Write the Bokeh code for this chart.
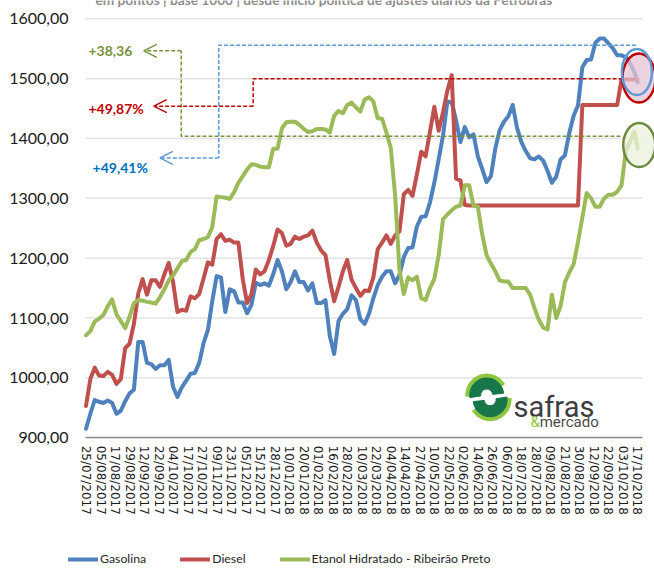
from bokeh.plotting import figure
from bokeh.models import (Range1d, FixedTicker, Legend, LegendItem, Label, Arrow, OpenHead)
from bokeh.embed import file_html
from bokeh.resources import INLINE

# ---------------- data ----------------
date_labels = ["25/07/2017", "05/08/2017", "17/08/2017", "29/08/2017", "12/09/2017",
               "22/09/2017", "04/10/2017", "17/10/2017", "27/10/2017", "09/11/2017",
               "23/11/2017", "05/12/2017", "15/12/2017", "28/12/2017", "10/01/2018",
               "20/01/2018", "01/02/2018", "16/02/2018", "28/02/2018", "10/03/2018",
               "22/03/2018", "04/04/2018", "14/04/2018", "27/04/2018", "10/05/2018",
               "22/05/2018", "02/06/2018", "14/06/2018", "26/06/2018", "06/07/2018",
               "18/07/2018", "28/07/2018", "09/08/2018", "21/08/2018", "30/08/2018",
               "12/09/2018", "22/09/2018", "03/10/2018", "17/10/2018"]
label_step = 10  # observations between two date labels

day_index = list(range(0, 379, 3)) + [380]

gasolina = [915, 940, 963, 960, 958, 962, 958, 940, 945, 961,
            974, 980, 1060, 1060, 1025, 1023, 1015, 1021, 1021, 1030,
            985, 968, 984, 995, 1007, 1008, 1025, 1058, 1080, 1128,
            1170, 1168, 1110, 1148, 1145, 1126, 1126, 1108, 1122,
            1159, 1155, 1158, 1154, 1173, 1197, 1178, 1148, 1160, 1178,
            1160, 1160, 1146, 1158, 1125, 1125, 1130, 1070, 1040, 1095,
            1107, 1115, 1138, 1130, 1098, 1090, 1107, 1133, 1155, 1169,
            1178, 1178, 1158, 1172, 1202, 1217, 1218, 1253, 1269, 1270,
            1293, 1326, 1365, 1405, 1462, 1460, 1430, 1394, 1419, 1402,
            1407, 1370, 1349, 1327, 1337, 1383, 1414, 1428, 1437,
            1456, 1418, 1394, 1379, 1367, 1365, 1370, 1363, 1346, 1326,
            1336, 1365, 1372, 1409, 1438, 1455, 1519, 1531, 1532, 1560,
            1567, 1567, 1559, 1551, 1539, 1539, 1536, 1525, 1510,
            1494.1]

diesel = [953, 998, 1017, 1004, 1003, 1010, 1005, 990, 998, 1050,
          1057, 1090, 1141, 1165, 1139, 1163, 1163, 1152, 1173, 1192,
          1160, 1110, 1114, 1112, 1136, 1133, 1140, 1166, 1193, 1189,
          1232, 1240, 1229, 1231, 1226, 1226, 1165, 1125, 1140,
          1181, 1173, 1178, 1197, 1220, 1248, 1242, 1221, 1224, 1236,
          1232, 1236, 1238, 1246, 1226, 1213, 1205, 1163, 1128, 1152,
          1178, 1197, 1164, 1150, 1137, 1146, 1145, 1168, 1215, 1226,
          1238, 1224, 1238, 1245, 1307, 1314, 1304, 1340, 1378, 1370,
          1411, 1453, 1413, 1444, 1480, 1506, 1333, 1330, 1289, 1288,
          1288, 1288, 1288, 1288, 1288, 1288, 1288, 1288, 1288, 1288,
          1288, 1288, 1288, 1288, 1288, 1288, 1288, 1288, 1288, 1288,
          1288, 1288, 1288, 1288, 1288,
          1456, 1456, 1456, 1456, 1456, 1456, 1456, 1456, 1456,
          1498.7, 1498.7, 1498.7, 1498.7,
          1498.7]

etanol = [1071, 1078, 1094, 1099, 1105, 1120, 1131, 1106, 1095, 1083,
          1102, 1125, 1130, 1129, 1127, 1126, 1124, 1135, 1148, 1163,
          1171, 1183, 1195, 1197, 1210, 1215, 1230, 1232, 1235, 1252,
          1303, 1302, 1301, 1299, 1310, 1326, 1337, 1348, 1357,
          1356, 1353, 1352, 1352, 1383, 1383, 1417, 1427, 1428, 1428,
          1423, 1416, 1411, 1412, 1416, 1416, 1415, 1410, 1438, 1446,
          1442, 1456, 1460, 1452, 1445, 1465, 1469, 1462, 1434, 1433,
          1410, 1384, 1305, 1180, 1140, 1168, 1163, 1169, 1133, 1130,
          1150, 1165, 1205, 1265, 1273, 1280, 1286, 1288, 1322, 1322,
          1288, 1286, 1240, 1205, 1191, 1178, 1163, 1161, 1161,
          1150, 1150, 1150, 1150, 1139, 1117, 1097, 1084, 1081, 1139,
          1100, 1120, 1160, 1176, 1190, 1227, 1268, 1309, 1300, 1286,
          1286, 1300, 1306, 1306, 1311, 1322, 1380, 1395, 1411,
          1383.6]

series_names = ["Gasolina", "Diesel", "Etanol Hidratado - Ribeirão Preto"]
series_colors = ["#4F81BD", "#C0504D", "#9BBB59"]

y_ticks = [900, 1000, 1100, 1200, 1300, 1400, 1500, 1600]
y_tick_labels = ["900,00", "1000,00", "1100,00", "1200,00", "1300,00", "1400,00", "1500,00", "1600,00"]

subtitle = "em pontos | base 1000 | desde início política de ajustes diários da Petrobras"

# annotation guides (day index, index level)
notes = [
    dict(text="+38,36", color="#77933C", tx=1.7, ty=1546.5,
         gx=[368.3, 65.6, 65.6], gy=[1403.8, 1403.8, 1546.5], tip=39.8),
    dict(text="+49,87%", color="#C00000", tx=1.7, ty=1450.7,
         gx=[378.0, 115.2, 115.2], gy=[1500.0, 1500.0, 1454.0], tip=46.7),
    dict(text="+49,41%", color="#0070C0", tx=4.5, ty=1352.0,
         gx=[379.0, 91.5, 91.5], gy=[1556.0, 1556.0, 1367.6], tip=50.9),
]
guide_colors = ["#77933C", "#C00000", "#5B9BD5"]

# plotting-area extent along x (day index) used for grid / axis line
area_x0, area_x1 = -0.34, 383.2

# ---------------- figure ----------------
p = figure(width=654, height=571, x_range=Range1d(-58.91, 391.72), y_range=Range1d(676.4, 1630.6),
           output_backend="svg", toolbar_location=None,
           min_border_left=0, min_border_right=0, min_border_top=0, min_border_bottom=0)
p.outline_line_color = None
p.background_fill_color = "white"
p.border_fill_color = "white"
p.xgrid.grid_line_color = None
p.ygrid.grid_line_color = None

# horizontal gridlines
p.segment(x0=[area_x0] * len(y_ticks), y0=y_ticks, x1=[area_x1] * len(y_ticks), y1=y_ticks,
          line_color="#E3E3E3", line_width=1.5, level="underlay")

p.xaxis.fixed_location = 900
p.xaxis.bounds = (area_x0, area_x1)
p.xaxis.ticker = FixedTicker(ticks=[i * label_step for i in range(len(date_labels))])
p.xaxis.major_label_overrides = {i * label_step: s for i, s in enumerate(date_labels)}
p.xaxis.major_label_orientation = "vertical"
p.xaxis.major_label_text_font = "DejaVu Sans"
p.xaxis.major_label_text_font_size = "12px"
p.xaxis.major_label_text_color = "#1A1A1A"
p.xaxis.major_label_standoff = 8
p.xaxis.major_tick_in = 0
p.xaxis.major_tick_out = 0
p.xaxis.minor_tick_in = 0
p.xaxis.minor_tick_out = 0
p.xaxis.axis_line_color = "#8C8C8C"
p.xaxis.axis_line_width = 1.5

p.yaxis.fixed_location = area_x0
p.yaxis.ticker = FixedTicker(ticks=y_ticks)
p.yaxis.major_label_overrides = {v: s for v, s in zip(y_ticks, y_tick_labels)}
p.yaxis.major_label_text_font = "Lato"
p.yaxis.major_label_text_font_size = "16px"
p.yaxis.major_label_text_color = "#1A1A1A"
p.yaxis.major_label_standoff = 17
p.yaxis.axis_line_color = None
p.yaxis.major_tick_in = 0
p.yaxis.major_tick_out = 0
p.yaxis.minor_tick_in = 0
p.yaxis.minor_tick_out = 0

renderers = []
for vals, c in zip([gasolina, diesel, etanol], series_colors):
    r = p.line(day_index, vals, line_color=c, line_width=4, line_join="round", line_cap="round")
    renderers.append(r)

# dashed guides with arrows and the variation texts
for n, gc in zip(notes, guide_colors):
    p.line(n["gx"], n["gy"], line_color=gc, line_width=1.5, line_dash="4 2")
    p.add_layout(Arrow(end=OpenHead(size=13, line_color=gc, line_width=1.5),
                       x_start=n["gx"][-1], y_start=n["gy"][-1], x_end=n["tip"], y_end=n["gy"][-1],
                       line_color=gc, line_width=1.5, line_dash="4 2"))
    p.add_layout(Label(x=n["tx"], y=n["ty"], text=n["text"], text_color=n["color"],
                       text_font="Lato", text_font_style="bold",
                       text_font_size="14px", text_baseline="middle", text_align="left"))

# highlight ellipses at the end of the series
p.ellipse(x=[381.0], y=[1501], width=33, height=49, width_units="screen", height_units="screen",
          fill_color="#E4C4D6", fill_alpha=0.75, line_color="#C00000", line_width=2.5)
p.ellipse(x=[379.6], y=[1511], width=30, height=46, width_units="screen", height_units="screen",
          fill_alpha=0, line_color="#5B9BD5", line_width=2.5)
p.ellipse(x=[381.2], y=[1389], width=32, height=44, width_units="screen", height_units="screen",
          fill_color="#E9F0DC", fill_alpha=0.75, line_color="#6E8B3D", line_width=2.5)

# subtitle (cut at the top edge, as in the source)
p.add_layout(Label(x=6.5, y=1632, text=subtitle, text_color="#8C8C8C",
                   text_font="Lato", text_font_style="bold", text_font_size="13.7px",
                   text_baseline="alphabetic", text_align="left"))

# logo: two curved arrows + wordmark
lx, ly = 277.3, 967.4
dx, dy = 1.2, 4.0
p.annular_wedge(x=[lx - dx], y=[ly + dy], inner_radius=15, outer_radius=21, start_angle=[0.55], end_angle=[3.2],
                inner_radius_units="screen", outer_radius_units="screen", color="#8DC63F")
p.annular_wedge(x=[lx + dx], y=[ly - dy], inner_radius=15, outer_radius=21, start_angle=[3.7], end_angle=[6.35],
                inner_radius_units="screen", outer_radius_units="screen", color="#8DC63F")
p.annular_wedge(x=[lx - dx], y=[ly + dy], inner_radius=6, outer_radius=17, start_angle=[0.1], end_angle=[3.3],
                inner_radius_units="screen", outer_radius_units="screen", color="#17764A")
p.annular_wedge(x=[lx + dx], y=[ly - dy], inner_radius=6, outer_radius=17, start_angle=[3.25], end_angle=[6.45],
                inner_radius_units="screen", outer_radius_units="screen", color="#17764A")
p.add_layout(Label(x=294.6, y=950.7, text="safras", text_color="#3D3D3D",
                   text_font="Roboto", text_font_size="29px", text_baseline="alphabetic"))
p.add_layout(Label(x=306.3, y=925.6, text="&", text_color="#8DC63F",
                   text_font="Roboto", text_font_size="15px", text_baseline="alphabetic"))
p.add_layout(Label(x=312.6, y=925.6, text="mercado", text_color="#4D4D4D",
                   text_font="Roboto", text_font_size="15px", text_baseline="alphabetic"))

legend = Legend(items=[LegendItem(label=n, renderers=[r]) for n, r in zip(series_names, renderers)],
                orientation="horizontal", location=(68, 5),
                background_fill_alpha=0, border_line_color=None, padding=0, margin=0,
                spacing=34, glyph_width=30, glyph_height=14, label_height=14, label_standoff=2,
                label_text_font="Lato", label_text_font_size="12.3px",
                label_text_color="#262626")
p.add_layout(legend, "center")

open("out.html", "w").write(file_html(p, INLINE))
